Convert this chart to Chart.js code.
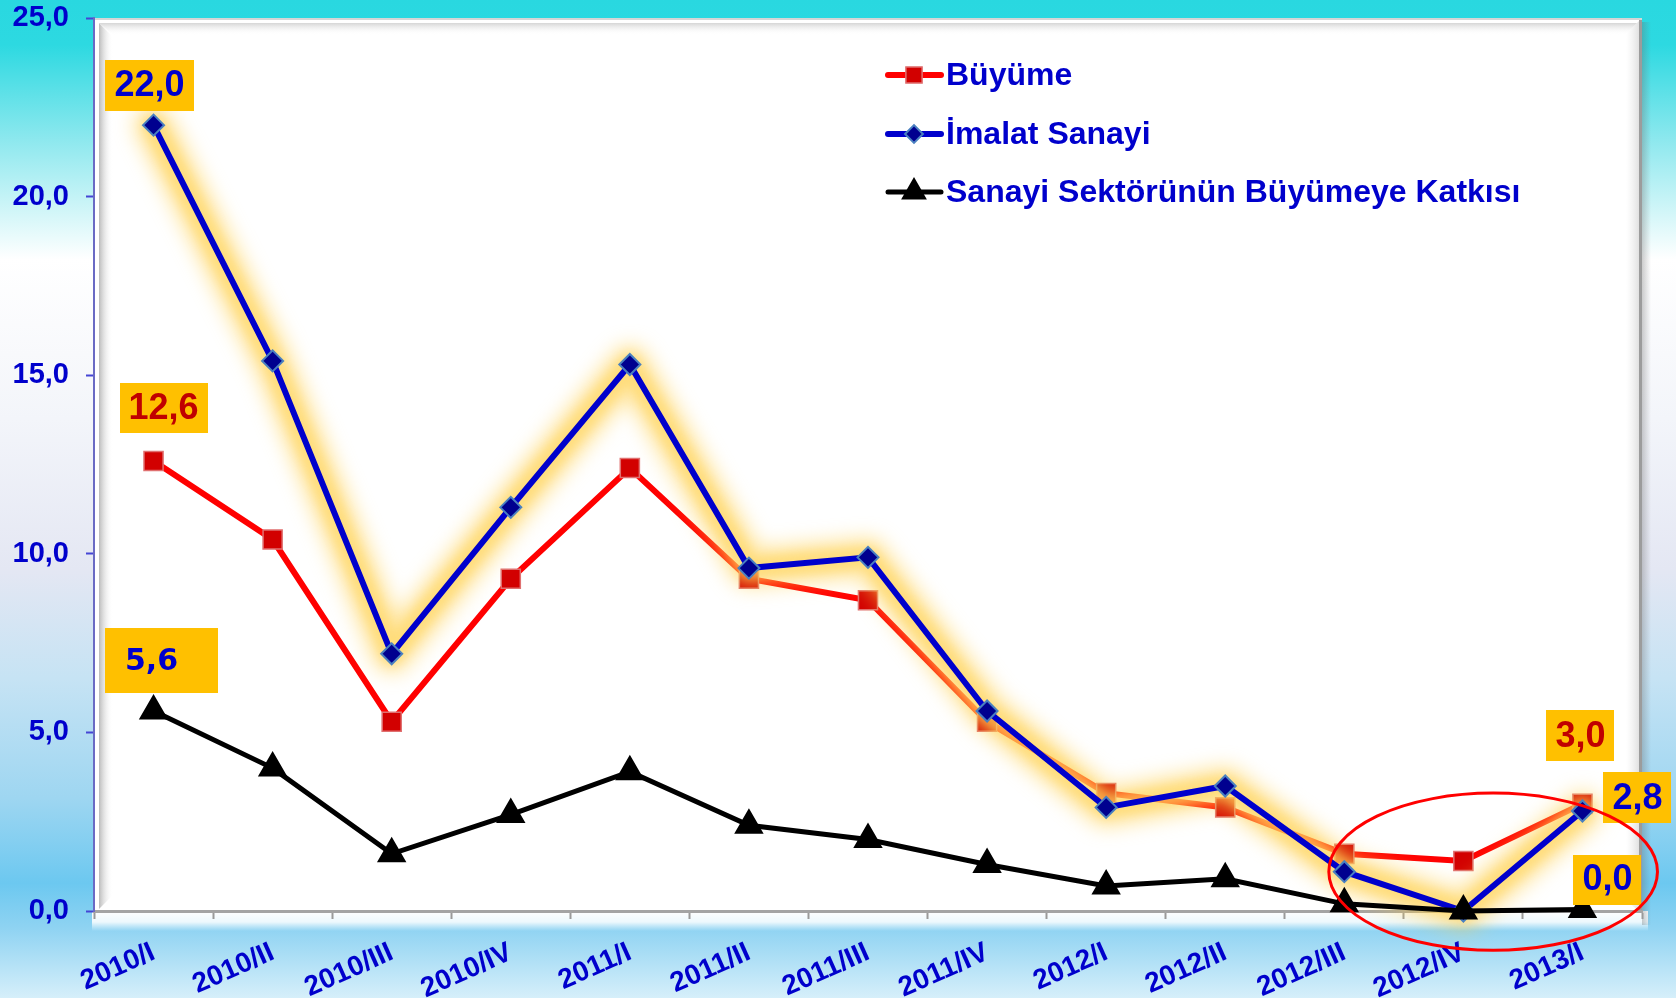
<!DOCTYPE html>
<html><head><meta charset="utf-8">
<script src="https://cdn.jsdelivr.net/npm/chart.js@4.4.1/dist/chart.umd.min.js"></script>
<style>html,body{margin:0;padding:0;background:#fff;overflow:hidden}canvas{display:block}</style>
</head><body>
<canvas id="c" width="1676" height="998"></canvas>
<script>
// ---- data ----
const categories = ['2010/I','2010/II','2010/III','2010/IV','2011/I','2011/II','2011/III','2011/IV','2012/I','2012/II','2012/III','2012/IV','2013/I'];
const buyume = [12.6,10.4,5.3,9.3,12.4,9.3,8.7,5.3,3.3,2.9,1.6,1.4,3.0];
const imalat = [22.0,15.4,7.2,11.3,15.3,9.6,9.9,5.6,2.9,3.5,1.1,0.0,2.8];
const katki = [5.6,4.0,1.6,2.7,3.9,2.4,2.0,1.3,0.7,0.9,0.2,0.0,0.04];
const seriesNames = ['Büyüme','İmalat Sanayi','Sanayi Sektörünün Büyümeye Katkısı'];
const yTickValues = [0,5,10,15,20,25];
const yTickLabels = ['0,0','5,0','10,0','15,0','20,0','25,0'];

const BLUE_TEXT = '#0000CC';
const fmt = v => v.toFixed(1).replace('.', ',');
const F = '"Liberation Sans", Arial, sans-serif';

// callout boxes (style/offsets only; value text comes from data)
const callouts = [
  {ds:1, i:0,  dx:-4,  dy:-40, w:89,  h:51, color:BLUE_TEXT, font:'bold 36px '+F, tdx:0},
  {ds:0, i:0,  dx:10,  dy:-53, w:88,  h:50, color:'#C00000', font:'bold 36px '+F, tdx:0},
  {ds:2, i:0,  dx:8,   dy:-50, w:113, h:65, color:BLUE_TEXT, font:'bold 30px "DejaVu Sans", Verdana, sans-serif', tdx:-10},
  {ds:0, i:12, dx:-2,  dy:-68, w:68,  h:51, color:'#C00000', font:'bold 36px '+F, tdx:0},
  {ds:1, i:12, dx:55,  dy:-13, w:68,  h:51, color:BLUE_TEXT, font:'bold 36px '+F, tdx:0},
  {ds:2, i:12, dx:25,  dy:-30, w:68,  h:50, color:BLUE_TEXT, font:'bold 36px '+F, tdx:0}
];

const deco = {
  id: 'deco',
  beforeDraw(chart) {
    const {ctx, chartArea: a, width, height} = chart;
    ctx.save();
    const g = ctx.createLinearGradient(0, 0, 0, height);
    g.addColorStop(0, '#29d8e0');
    g.addColorStop(0.045, '#2dd9e1');
    g.addColorStop(0.14, '#8de8ee');
    g.addColorStop(0.26, '#ffffff');
    g.addColorStop(0.42, '#f3f5fa');
    g.addColorStop(0.57, '#e4e7f3');
    g.addColorStop(0.68, '#c6e3f4');
    g.addColorStop(0.8, '#9ed6f1');
    g.addColorStop(0.885, '#6cc8f0');
    g.addColorStop(0.93, '#8fd3f2');
    g.addColorStop(1, '#d6effa');
    ctx.fillStyle = g;
    ctx.fillRect(0, 0, width, height);

    // white glow under x axis
    const gw = ctx.createLinearGradient(0, a.bottom, 0, a.bottom + 20);
    gw.addColorStop(0, 'rgba(255,255,255,1)');
    gw.addColorStop(0.55, 'rgba(255,255,255,0.85)');
    gw.addColorStop(1, 'rgba(255,255,255,0)');
    ctx.fillStyle = gw;
    ctx.fillRect(a.left - 2, a.bottom, a.right - a.left + 8, 20);

    // right outer shadow
    const gs = ctx.createLinearGradient(a.right, 0, a.right + 9, 0);
    gs.addColorStop(0, 'rgba(110,110,110,0.35)');
    gs.addColorStop(1, 'rgba(110,110,110,0)');
    ctx.fillStyle = gs;
    ctx.fillRect(a.right, a.top + 4, 9, a.bottom - a.top + 10);

    // plot box
    ctx.fillStyle = '#ffffff';
    ctx.fillRect(a.left, a.top, a.right - a.left, a.bottom - a.top);
    ctx.fillStyle = '#d6d6d6';
    ctx.fillRect(a.left, a.top, a.right - a.left, 2);

    // left bevel
    const L0 = a.left + 5, L1 = a.left + 19;
    const gl = ctx.createLinearGradient(L0, 0, L1, 0);
    gl.addColorStop(0, 'rgba(170,170,170,0.8)');
    gl.addColorStop(1, 'rgba(255,255,255,0)');
    ctx.fillStyle = gl;
    ctx.beginPath();
    ctx.moveTo(L0, a.top + 5); ctx.lineTo(L1, a.top + 19); ctx.lineTo(L1, a.bottom - 16); ctx.lineTo(L0, a.bottom - 2);
    ctx.closePath(); ctx.fill();

    // top bevel
    const T0 = a.top + 5, T1 = a.top + 17;
    const gt = ctx.createLinearGradient(0, T0, 0, T1);
    gt.addColorStop(0, 'rgba(200,200,200,0.75)');
    gt.addColorStop(1, 'rgba(255,255,255,0)');
    ctx.fillStyle = gt;
    ctx.beginPath();
    ctx.moveTo(L0, T0); ctx.lineTo(a.right - 5, T0); ctx.lineTo(a.right - 17, T1); ctx.lineTo(L1, T1);
    ctx.closePath(); ctx.fill();

    // right bevel (inner)
    const gr = ctx.createLinearGradient(a.right - 16, 0, a.right - 3, 0);
    gr.addColorStop(0, 'rgba(225,225,225,0)');
    gr.addColorStop(1, 'rgba(205,205,205,0.6)');
    ctx.fillStyle = gr;
    ctx.beginPath();
    ctx.moveTo(a.right - 3, a.top + 3); ctx.lineTo(a.right - 3, a.bottom); ctx.lineTo(a.right - 16, a.bottom - 10); ctx.lineTo(a.right - 16, a.top + 16);
    ctx.closePath(); ctx.fill();

    ctx.fillStyle = '#9c9c9c';
    ctx.fillRect(a.right - 3, a.top + 2, 3, a.bottom - a.top - 2);
    ctx.restore();
  },
  beforeDatasetDraw(chart, args) {
    if (args.index !== 1) return;
    const {ctx} = chart;
    const pts = args.meta.data;
    ctx.save();
    ctx.lineJoin = 'round';
    ctx.lineCap = 'round';
    const path = () => {
      ctx.beginPath();
      pts.forEach((p, k) => { if (k === 0) ctx.moveTo(p.x, p.y); else ctx.lineTo(p.x, p.y); });
    };
    ctx.filter = 'blur(10px)';
    ctx.strokeStyle = 'rgba(255,205,70,0.55)';
    ctx.lineWidth = 38;
    path(); ctx.stroke();
    ctx.filter = 'blur(5px)';
    ctx.strokeStyle = 'rgba(255,215,100,0.55)';
    ctx.lineWidth = 22;
    path(); ctx.stroke();
    ctx.restore();
  },
  afterDraw(chart) {
    const {ctx} = chart;
    const xs = chart.scales.x, ys = chart.scales.y;
    ctx.save();
    // callouts
    callouts.forEach(c => {
      const p = chart.getDatasetMeta(c.ds).data[c.i];
      const v = chart.data.datasets[c.ds].data[c.i];
      const cx = p.x + c.dx, cy = p.y + c.dy;
      ctx.fillStyle = '#FFC000';
      ctx.fillRect(Math.round(cx - c.w / 2), Math.round(cy - c.h / 2), c.w, c.h);
      ctx.fillStyle = c.color;
      ctx.font = c.font;
      ctx.textAlign = 'center';
      ctx.textBaseline = 'middle';
      ctx.fillText(fmt(v), cx + c.tdx, cy + 1);
    });

    // legend
    const rows = [75, 134, 192];
    chart.data.datasets.forEach((ds, k) => {
      const y = rows[k];
      ctx.strokeStyle = ds.borderColor;
      ctx.lineWidth = ds.borderWidth;
      ctx.lineCap = 'round';
      ctx.beginPath(); ctx.moveTo(888, y); ctx.lineTo(941, y); ctx.stroke();
      ctx.fillStyle = ds.pointBackgroundColor;
      ctx.strokeStyle = ds.pointBorderColor;
      ctx.lineWidth = ds.pointBorderWidth;
      Chart.helpers.drawPoint(ctx, {pointStyle: ds.pointStyle, radius: ds.pointRadius * 0.85, borderWidth: ds.pointBorderWidth, rotation: 0}, 914, y);
      ctx.fillStyle = BLUE_TEXT;
      ctx.font = 'bold 32px ' + F;
      ctx.textAlign = 'left';
      ctx.textBaseline = 'middle';
      ctx.fillText(ds.label, 946, y + 1);
    });

    // red ellipse highlight
    const step = xs.getPixelForValue(1) - xs.getPixelForValue(0);
    const ex = xs.getPixelForValue(11) + 0.25 * step;
    const ey = ys.getPixelForValue(1.1);
    const rx = 1.38 * step;
    const ry = ys.getPixelForValue(0) - ys.getPixelForValue(2.2);
    ctx.strokeStyle = '#FF0000';
    ctx.lineWidth = 3;
    ctx.beginPath();
    ctx.ellipse(ex, ey, rx, ry, 0, 0, Math.PI * 2);
    ctx.stroke();
    ctx.restore();
  }
};

new Chart(document.getElementById('c'), {
  type: 'line',
  data: {
    labels: categories,
    datasets: [
      {label: seriesNames[0], data: buyume, order: 3, borderColor: '#FF0000', borderWidth: 6,
       pointStyle: 'rect', pointRadius: 13.5, pointBackgroundColor: '#D20000', pointBorderColor: '#E07070', pointBorderWidth: 1.5,
       tension: 0, clip: false},
      {label: seriesNames[1], data: imalat, order: 2, borderColor: '#0000CC', borderWidth: 6,
       pointStyle: 'rectRot', pointRadius: 10.5, pointBackgroundColor: '#00008F', pointBorderColor: '#4A80C0', pointBorderWidth: 2,
       tension: 0, clip: false},
      {label: seriesNames[2], data: katki, order: 1, borderColor: '#000000', borderWidth: 5,
       pointStyle: 'triangle', pointRadius: 14, pointBackgroundColor: '#000000', pointBorderColor: '#000000', pointBorderWidth: 3,
       tension: 0, clip: false}
    ]
  },
  options: {
    responsive: false,
    devicePixelRatio: 1,
    animation: false,
    layout: {padding: {top: 18, right: 34, left: 0, bottom: 0}},
    plugins: {legend: {display: false}, tooltip: {enabled: false}},
    scales: {
      x: {
        offset: true,
        grid: {offset: true, drawOnChartArea: false, drawTicks: true, tickLength: 8, tickColor: '#9a9a9a', tickWidth: 2},
        border: {color: '#a4a4a4', width: 3},
        ticks: {color: BLUE_TEXT, font: {family: F, size: 28, weight: 'bold'}, maxRotation: 24, minRotation: 24, autoSkip: false, padding: 17},
        afterFit(s) { s.height = 87; s.paddingTop = 0; s.paddingBottom = 0; }
      },
      y: {
        min: 0, max: 25,
        afterBuildTicks(s) { s.ticks = yTickValues.map(v => ({value: v})); },
        grid: {drawOnChartArea: false, drawTicks: true, tickLength: 8, tickColor: '#4545d5', tickWidth: 2},
        border: {color: '#6a6ac4', width: 2},
        ticks: {color: BLUE_TEXT, font: {family: F, size: 29, weight: 'bold'}, padding: 17,
                callback: (v) => yTickLabels[yTickValues.indexOf(v)]},
        afterFit(s) { s.width = 94; s.paddingTop = 0; s.paddingBottom = 0; }
      }
    }
  },
  plugins: [deco]
});
</script>
</body></html>
